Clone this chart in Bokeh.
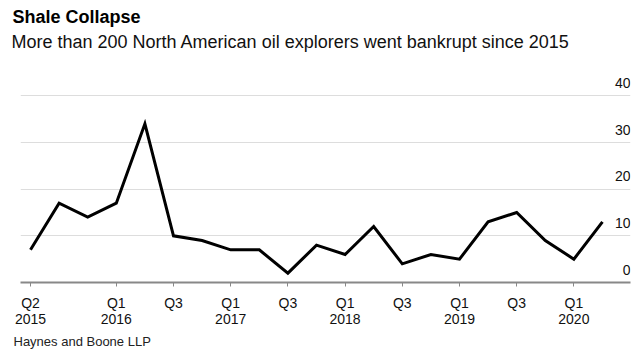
from bokeh.plotting import figure
from bokeh.models import Title, FixedTicker, ColumnDataSource, Range1d
from bokeh.core.properties import value
from bokeh.embed import file_html
from bokeh.resources import INLINE

quarters = ["Q2 2015", "Q3 2015", "Q4 2015", "Q1 2016", "Q2 2016", "Q3 2016", "Q4 2016",
            "Q1 2017", "Q2 2017", "Q3 2017", "Q4 2017", "Q1 2018", "Q2 2018", "Q3 2018",
            "Q4 2018", "Q1 2019", "Q2 2019", "Q3 2019", "Q4 2019", "Q1 2020", "Q2 2020"]
bankruptcies = [7, 17, 14, 17, 34, 10, 9, 7, 7, 2, 8, 6, 12, 4, 6, 5, 13, 15, 9, 5, 13]
tick_quarters = ["Q2 2015", "Q1 2016", "Q3 2016", "Q1 2017", "Q3 2017", "Q1 2018",
                 "Q3 2018", "Q1 2019", "Q3 2019", "Q1 2020"]
tick_labels = ["Q2\n2015", "Q1\n2016", "Q3", "Q1\n2017", "Q3", "Q1\n2018",
               "Q3", "Q1\n2019", "Q3", "Q1\n2020"]
y_ticks = [0, 10, 20, 30, 40]
y_tick_labels = ["0", "10", "20", "30", "40"]

FONT = "Liberation Sans"
xs = list(range(len(quarters)))
tick_idx = [quarters.index(q) for q in tick_quarters]

p = figure(width=644, height=353, output_backend="svg", toolbar_location=None,
           x_range=Range1d(-0.35, 20.98), y_range=Range1d(0, 45),
           y_axis_location=None, title=None,
           min_border_left=20, min_border_right=14, min_border_top=0, min_border_bottom=71)
p.outline_line_color = None
p.background_fill_color = "white"
p.border_fill_color = "white"

# spacer between subtitle and plot area
p.add_layout(Title(text=" ", text_font=FONT, text_font_size="1px", standoff=15), "above")
p.add_layout(Title(text="More than 200 North American oil explorers went bankrupt since 2015",
                   text_font=FONT, text_font_size="18px", text_font_style="normal",
                   text_color="#111111", align="left", offset=-9, standoff=2,
                   vertical_align="top"), "above")
p.add_layout(Title(text="Shale Collapse", text_font=FONT, text_font_size="18px",
                   text_font_style="bold", text_color="#000000", align="left", offset=-8,
                   standoff=8), "above")
p.add_layout(Title(text="Haynes and Boone LLP", text_font=FONT, text_font_size="13px",
                   text_font_style="normal", text_color="#222222", align="left", offset=-7,
                   standoff=6, vertical_align="top"), "below")

p.xgrid.visible = False
p.ygrid.ticker = FixedTicker(ticks=y_ticks)
p.ygrid.grid_line_color = "#dddddd"
p.ygrid.grid_line_width = 1

ax = p.xaxis[0]
ax.ticker = FixedTicker(ticks=tick_idx)
ax.major_label_overrides = {i: l for i, l in zip(tick_idx, tick_labels)}
ax.axis_line_color = "#888888"
ax.axis_line_width = 2
ax.major_tick_line_color = "#888888"
ax.major_tick_line_width = 1
ax.major_tick_in = 0
ax.major_tick_out = 4
ax.minor_tick_line_color = None
ax.major_label_text_font = FONT
ax.major_label_text_font_size = "14px"
ax.major_label_text_color = "#111111"
ax.major_label_text_line_height = 1.05
ax.major_label_standoff = 8

src = ColumnDataSource(dict(x=xs, y=bankruptcies))
p.line("x", "y", source=src, line_color="black", line_width=3, line_join="miter")

lab = ColumnDataSource(dict(x=[p.x_range.end] * len(y_ticks), y=y_ticks, t=y_tick_labels))
p.text("x", "y", text="t", source=lab, text_align="right", text_baseline="alphabetic",
       y_offset=-13, text_font=value(FONT), text_font_size="14px", text_color="#111111")

open("out.html", "w").write(file_html(p, INLINE))
